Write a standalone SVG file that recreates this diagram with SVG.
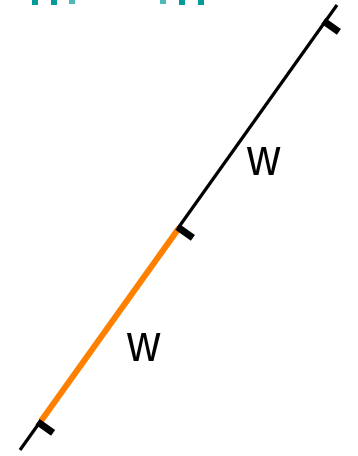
<svg xmlns="http://www.w3.org/2000/svg" width="358" height="456" viewBox="0 0 358 456">
<style>
.ln{stroke:#000;stroke-width:3.2;fill:none}
.or{stroke:#ff8000;stroke-width:6;fill:none}
.tk{stroke:#000;stroke-width:7;fill:none}
.lb{font-family:"Liberation Sans",Arial,sans-serif;font-size:53px;fill:#000}
.tl{fill:#009a9a}
</style>
<rect width="358" height="456" fill="#fff"/>
<g id="teal-marks">
<rect class="tl" x="32" y="0" width="6" height="5"/>
<rect class="tl" x="51" y="0" width="6" height="5"/>
<rect class="tl" x="69" y="0" width="6" height="4" opacity="0.7"/>
<rect class="tl" x="160" y="0" width="6" height="4" opacity="0.7"/>
<rect class="tl" x="179" y="0" width="6" height="5"/>
<rect class="tl" x="198" y="0" width="6" height="5"/>
</g>
<g id="connectors">
<line class="ln" x1="20" y1="450" x2="337" y2="5"/>
<line class="or" x1="41" y1="421" x2="179" y2="228"/>
</g>
<g id="tick-top"><line class="tk" x1="323.4" y1="20.8" x2="338.9" y2="31.9"/></g>
<g id="tick-mid"><line class="tk" x1="177.4" y1="226.8" x2="192.9" y2="237.9"/></g>
<g id="tick-bot"><line class="tk" x1="37.6" y1="421.8" x2="53.1" y2="432.9"/></g>
<g id="label-top"><text class="lb" transform="translate(247,175) scale(0.87,1)">w</text></g>
<g id="label-bot"><text class="lb" transform="translate(127,361) scale(0.87,1)">w</text></g>
</svg>
